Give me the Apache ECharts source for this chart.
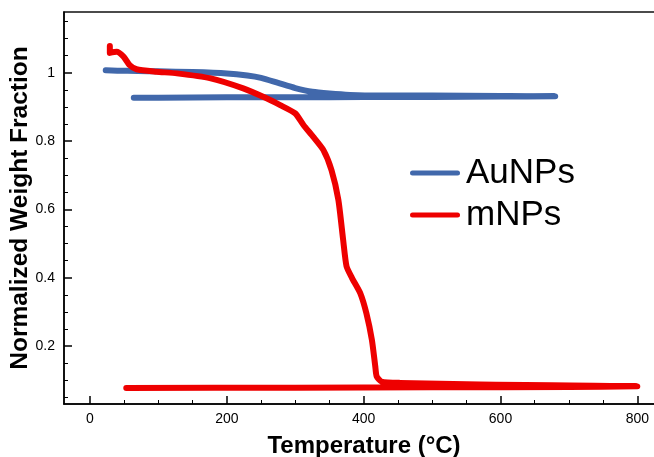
<!DOCTYPE html>
<html>
<head>
<meta charset="utf-8">
<title>TGA: AuNPs vs mNPs</title>
<script src="https://cdn.jsdelivr.net/npm/echarts/dist/echarts.min.js"></script>
<style>
  html, body { margin: 0; padding: 0; background: #fff; }
  #chart { width: 654px; height: 457px; }
</style>
</head>
<body>
<div id="chart"></div>
<script>
// Thermogravimetric traces: heating run followed by the cooling return.
const auTemp = [23, 40, 70, 100, 150, 200, 230, 250, 275, 300, 325, 350, 380, 420, 500, 600, 680,
                600, 500, 400, 300, 200, 100, 64];
const auFrac = [1.007, 1.006, 1.005, 1.004, 1.002, 0.998, 0.992, 0.985, 0.970, 0.955, 0.944, 0.939, 0.935, 0.933, 0.933, 0.932, 0.931,
                0.930, 0.929, 0.929, 0.928, 0.928, 0.927, 0.927];

const mTemp = [29, 29, 39, 49, 58, 68, 97, 127, 175, 224, 258, 278, 300, 312, 326, 341, 353, 363, 370,
               375, 383, 395, 404, 412, 417, 419, 426, 453, 570, 800,
               700, 500, 300, 53];
const mFrac = [1.078, 1.058, 1.061, 1.047, 1.022, 1.010, 1.003, 0.998, 0.984, 0.954, 0.925, 0.905, 0.881, 0.847, 0.813, 0.774, 0.715, 0.628, 0.511,
               0.433, 0.399, 0.355, 0.296, 0.218, 0.140, 0.111, 0.096, 0.092, 0.087, 0.082,
               0.080, 0.079, 0.078, 0.077];

const xMajorTicks = [0, 200, 400, 600, 800];
const xMinorTicks = [50, 100, 150, 250, 300, 350, 450, 500, 550, 650, 700, 750];
const yMajorTicks = [0.2, 0.4, 0.6, 0.8, 1];
const yMinorTicks = [0.05, 0.1, 0.15, 0.25, 0.3, 0.35, 0.45, 0.5, 0.55, 0.65, 0.7, 0.75, 0.85, 0.9, 0.95, 1.05, 1.1, 1.15];

const zip = (xs, ys) => xs.map((x, i) => [x, ys[i]]);

const X_MIN = -38, X_MAX = 839;
const Y_MIN = 0.0302, Y_MAX = 1.1777;
const FONT = '"Liberation Sans", Arial, Helvetica, sans-serif';

const chart = echarts.init(document.getElementById('chart'), null, { renderer: 'canvas' });

const baseAxis = {
  type: 'value',
  splitLine: { show: false },
  axisLine: { show: true, onZero: false, lineStyle: { color: '#000', width: 1.5 } }
};

chart.setOption({
  animation: false,
  backgroundColor: '#fff',
  grid: {
    left: 64, right: -10, top: 12, bottom: 53,
    outerBoundsMode: 'none', containLabel: false,
    show: true, borderColor: '#111', borderWidth: 1.5, backgroundColor: 'transparent'
  },
  legend: {
    orient: 'vertical',
    left: 410, top: 155,
    padding: 0,
    itemWidth: 50, itemHeight: 5, itemGap: 6,
    icon: 'path://M2.5,0 H47.5 A2.5,2.5 0 0 1 47.5,5 H2.5 A2.5,2.5 0 0 1 2.5,0 Z',
    textStyle: { fontFamily: FONT, fontSize: 35, color: '#000', lineHeight: 36, padding: [0, 0, 0, 1] },
    data: ['AuNPs', 'mNPs']
  },
  xAxis: [
    Object.assign({}, baseAxis, {
      min: X_MIN, max: X_MAX, position: 'bottom',
      name: 'Temperature (°C)', nameLocation: 'middle', nameGap: 30, nameMoveOverlap: false,
      nameTextStyle: { fontFamily: FONT, fontSize: 24, fontWeight: 'bold', color: '#000' },
      axisTick: { show: true, inside: true, length: 8, customValues: xMajorTicks, lineStyle: { color: '#000', width: 1.5 } },
      axisLabel: { show: true, customValues: xMajorTicks, margin: 8, fontFamily: FONT, fontSize: 14, color: '#000' }
    }),
    Object.assign({}, baseAxis, {
      min: X_MIN, max: X_MAX, position: 'bottom',
      axisLine: { show: false, onZero: false },
      axisTick: { show: true, inside: true, length: 4, customValues: xMinorTicks, lineStyle: { color: '#000', width: 1 } },
      axisLabel: { show: false }
    })
  ],
  yAxis: [
    Object.assign({}, baseAxis, {
      min: Y_MIN, max: Y_MAX, position: 'left',
      name: 'Normalized Weight Fraction', nameLocation: 'middle', nameGap: 31, nameMoveOverlap: false,
      nameTextStyle: { fontFamily: FONT, fontSize: 24.5, fontWeight: 'bold', color: '#000' },
      axisTick: { show: true, inside: true, length: 8, customValues: yMajorTicks, lineStyle: { color: '#000', width: 1.5 } },
      axisLabel: { show: true, customValues: yMajorTicks, margin: 9, fontFamily: FONT, fontSize: 14, color: '#000' }
    }),
    Object.assign({}, baseAxis, {
      min: Y_MIN, max: Y_MAX, position: 'left',
      axisLine: { show: false, onZero: false },
      axisTick: { show: true, inside: true, length: 4, customValues: yMinorTicks, lineStyle: { color: '#000', width: 1 } },
      axisLabel: { show: false }
    })
  ],
  series: [
    {
      name: 'AuNPs', type: 'line',
      data: zip(auTemp, auFrac),
      showSymbol: false, smooth: 0.2,
      itemStyle: { color: '#4168ab' },
      lineStyle: { color: '#4168ab', width: 6, cap: 'round', join: 'round' },
      z: 2
    },
    {
      name: 'mNPs', type: 'line',
      data: zip(mTemp, mFrac),
      showSymbol: false, smooth: 0.2,
      itemStyle: { color: '#ee0000' },
      lineStyle: { color: '#ee0000', width: 6, cap: 'round', join: 'round' },
      z: 3
    }
  ]
});
</script>
</body>
</html>
